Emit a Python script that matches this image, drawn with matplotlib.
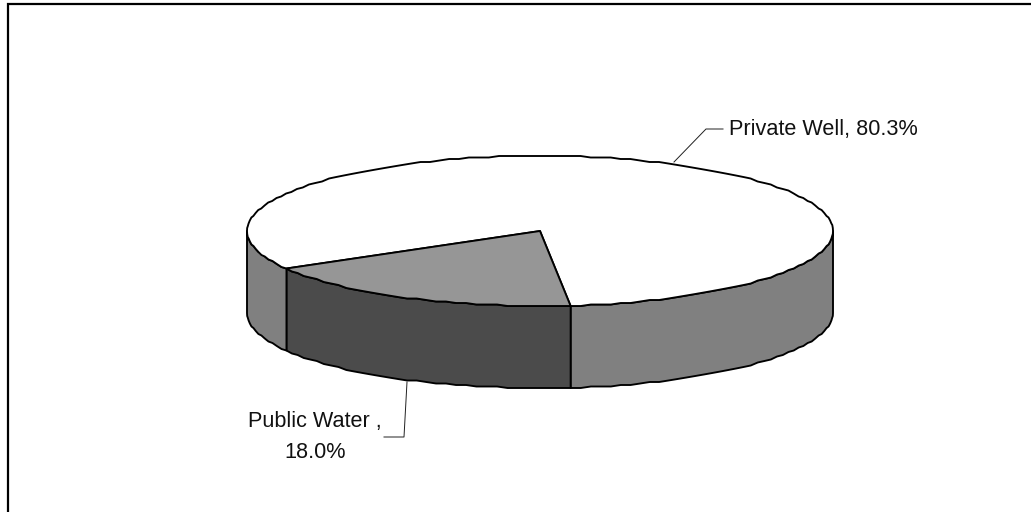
import numpy as np
import matplotlib
matplotlib.use("Agg")
import matplotlib.pyplot as plt
from matplotlib.patches import Polygon

# ---- DATA ---- #
labels = ["Private Well, 80.3%", "Public Water ,\n18.0%"]
values = [80.3, 18.0]

# ---- PIE GEOMETRY (pixels) ---- #
cx, cy = 540, 231
rx, ry = 293, 75
depth = 82
public_end = 84.0  # screen angle where the public slice starts, clockwise from east

total = sum(values)
public_sweep = values[1] / total * 360
public_start = public_end
public_stop = public_start + public_sweep
private_stop = public_stop + values[0] / total * 360


def rim(a0, a1, drop=0):
    # coarse steps snapped to a small grid give the original's slightly wobbly outline
    n = max(2, int(abs(a1 - a0) / 2.0) + 1)
    t = np.radians(np.linspace(a0, a1, n))
    x = cx + rx * np.cos(t)
    y = np.round((cy + ry * np.sin(t)) / 1.5) * 1.5 + drop
    return np.column_stack([x, y])


def side(a0, a1):
    return np.vstack([rim(a0, a1), rim(a0, a1, depth)[::-1]])


fig = plt.figure(figsize=(10.31, 5.12), dpi=100)
ax = fig.add_axes([0, 0, 1, 1])
ax.set_xlim(0, 1031)
ax.set_ylim(512, 0)
ax.axis("off")
plt.rcParams["font.family"] = ["Liberation Sans", "DejaVu Sans"]

edge = dict(edgecolor="black", linewidth=1.35, joinstyle="round")

# ---- CHART FRAME: only left and top are inside the crop ---- #
ax.plot([8, 8, 1031], [512, 4, 4], color="black", lw=1.6, solid_joinstyle="miter")

# ---- SIDE WALLS: only the front half can be seen ---- #
ax.add_patch(Polygon(side(0, public_start), facecolor="#808080", **edge))
ax.add_patch(Polygon(side(public_start, public_stop), facecolor="#4b4b4b", **edge))
ax.add_patch(Polygon(side(public_stop, 180), facecolor="#808080", **edge))

# ---- TOP FACE ---- #
centre = np.array([[cx, cy]])
ax.add_patch(Polygon(np.vstack([centre, rim(public_stop, private_stop)]), facecolor="white", **edge))
ax.add_patch(Polygon(np.vstack([centre, rim(public_start, public_stop)]), facecolor="#969696", **edge))

# ---- LEADER LINES AND LABELS ---- #
ax.plot([674, 706, 723], [162, 129, 129], color="#202020", lw=0.7)
ax.plot([407, 404, 384], [382, 437, 437], color="#202020", lw=0.7)
ax.text(729, 130, labels[0], fontsize=15.6, va="center", ha="left", color="#111111")
ax.text(315, 437, labels[1], fontsize=15.6, va="center", ha="center", color="#111111", linespacing=1.66)

plt.savefig("out.png", dpi=100)
